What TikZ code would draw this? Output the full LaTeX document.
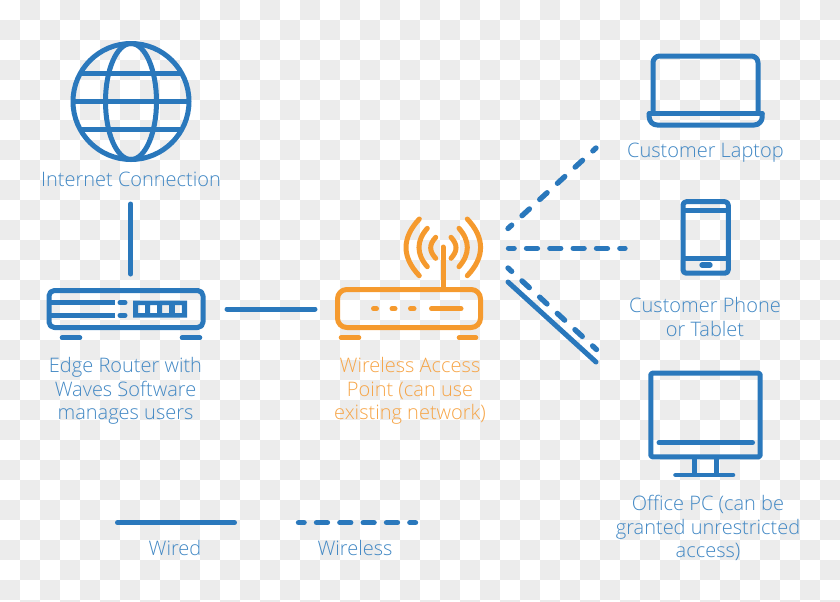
\documentclass[tikz,border=0pt]{standalone}
\usepackage{fontspec}
\setmainfont{Open Sans Light}
\definecolor{netblue}{HTML}{2A78BC}
\definecolor{nettext}{HTML}{4288C4}
\definecolor{netorange}{HTML}{F59A2E}
\definecolor{nettexto}{HTML}{F6A548}
\definecolor{chk}{HTML}{ECECEC}
\tikzset{
  icon/.style={draw=netblue,line width=3.75pt,line cap=round,line join=round},
  oicon/.style={draw=netorange,line width=3.75pt,line cap=round,line join=round},
  wire/.style={draw=netblue,line width=3.75pt,line cap=round},
  wless/.style={draw=netblue,line width=4pt,line cap=round,dash pattern=on 8.2pt off 9.3pt,dash phase=4pt},
  wdiag/.style={draw=netblue,line width=4pt,line cap=round,dash pattern=on 7.5pt off 10.5pt,dash phase=3.75pt},
  lbl/.style={font=\fontsize{15}{17.6}\selectfont,text=nettext,align=center,inner sep=0pt},
  olbl/.style={lbl,text=nettexto},
}
\begin{document}
\begin{tikzpicture}[x=0.75pt,y=-0.75pt]
\clip (0,0) rectangle (840,601);
\foreach \i in {0,...,41}{\foreach \j in {0,...,30}{
  \pgfmathtruncatemacro{\odd}{mod(\i+\j,2)}
  \ifnum\odd=1 \fill[chk] (20*\i,20*\j) rectangle +(20,20); \fi
}}
% globe
\draw[icon] (131,101.5) circle [x radius=58,y radius=58];
\draw[icon] (131,101.5) ellipse [x radius=25.5,y radius=58];
\draw[icon,line cap=butt] (80,73.5) -- (182,73.5);
\draw[icon,line cap=butt] (73,101) -- (189,101);
\draw[icon,line cap=butt] (80,129) -- (182,129);
\node[lbl] (inet) at (131,179) {Internet Connection};
% edge router
\draw[icon,rounded corners=4pt] (49,290.5) rectangle (203,327.5);
\draw[icon,line cap=butt] (51,302.7) -- (115,302.7);
\draw[icon,line cap=butt] (51,315.3) -- (115,315.3);
\draw[icon] (120,302.7) -- (125,302.7);
\draw[icon] (120,315.3) -- (125,315.3);
\fill[netblue,even odd rule] (133,300.7) rectangle (187,317.7)
  (138.2,305.2) rectangle (145.2,313.2)
  (150.2,305.2) rectangle (157.2,313.2)
  (162.2,305.2) rectangle (169.2,313.2)
  (174.8,305.2) rectangle (181.8,313.2);
\draw[icon,line width=3.4pt] (62,337.7) -- (80,337.7);
\draw[icon,line width=3.4pt] (182,337.7) -- (200,337.7);
\node[lbl] (edge) at (125.5,391) {Edge Router with\\Waves Software\\manages users};
% access point
\draw[oicon,rounded corners=7pt] (337.5,289.5) rectangle (480.5,327.5);
\draw[oicon] (443,288) -- (443,247);
\draw[oicon] (373.5,308.7) -- (376.5,308.7);
\draw[oicon] (392,308.7) -- (395,308.7);
\draw[oicon] (410.5,308.7) -- (414,308.7);
\draw[oicon] (431.5,308.7) -- (461,308.7);
\draw[oicon,line width=3.4pt] (341,337.7) -- (359,337.7);
\draw[oicon,line width=3.4pt] (459,337.7) -- (476,337.7);
\draw[oicon] (435.7,237.3) .. controls (429,244.5) and (429,251) .. (435.7,258.3);
\draw[oicon] (427.3,228.3) .. controls (416.2,241) and (416.2,254) .. (427.3,266.7);
\draw[oicon] (419.3,219) .. controls (401.6,238) and (401.6,257) .. (419.3,275.7);
\draw[oicon] (451,237.3) .. controls (457.7,244.5) and (457.7,251) .. (451,258.3);
\draw[oicon] (459,228.3) .. controls (470.1,241) and (470.1,254) .. (459,266.7);
\draw[oicon] (467.3,219) .. controls (485,238) and (485,257) .. (467.3,275.7);
\node[olbl] (ap) at (410,391) {Wireless Access\\Point (can use\\existing network)};
% laptop
\draw[icon,rounded corners=5pt] (653,113) -- (653,56) -- (758,56) -- (758,113);
\draw[icon,rounded corners=6pt] (649.2,113.7) -- (649.2,125) -- (762.2,125) -- (762.2,113.7);
\draw[icon] (649.2,113.7) -- (762.2,113.7);
\node[lbl] (laptop) at (705.5,153) {Customer Laptop};
% phone
\draw[icon,rounded corners=2.5pt] (683,201.7) rectangle (728.3,273.2);
\draw[icon,line cap=butt] (683,210.7) -- (728.3,210.7);
\draw[icon,line cap=butt] (683,258.3) -- (728.3,258.3);
\draw[icon,line width=4pt] (702,265) -- (710,265);
\node[lbl] (phone) at (705,317) {Customer Phone\\or Tablet};
% monitor
\draw[icon,rounded corners=1pt] (650.8,373.2) rectangle (760.2,456.8);
\draw[icon] (659,442.7) -- (752.5,442.7);
\draw[icon,line cap=butt] (694,458) -- (694,475);
\draw[icon,line cap=butt] (716.7,458) -- (716.7,475);
\draw[icon,line width=3.4pt] (675.5,475) -- (733,475);
\node[lbl] (pc) at (708,528) {Office PC (can be\\granted unrestricted\\access)};
% connectors
\coordinate (neA) at (508,228.5); \coordinate (neB) at (596,148);
\coordinate (eA) at (508.5,248.3); \coordinate (eB) at (625,248.3);
\coordinate (seA) at (508,268); \coordinate (seB) at (596.5,349.5);
\coordinate (sA) at (508,282); \coordinate (sB) at (596,362);
\coordinate (upA) at (130.7,204); \coordinate (upB) at (130.7,274);
\coordinate (rA) at (227,309); \coordinate (rB) at (315,309);
\draw[wire] (upA) -- (upB);
\draw[wire] (rA) -- (rB);
\draw[wdiag] (neA) -- (neB);
\draw[wless] (eA) -- (eB);
\draw[wdiag] (seA) -- (seB);
\draw[wire] (sA) -- (sB);
% legend
\coordinate (lwA) at (117.5,522.7); \coordinate (lwB) at (234.5,522.7);
\coordinate (llA) at (298.5,522.7); \coordinate (llB) at (415.5,522.7);
\draw[wire] (lwA) -- (lwB);
\draw[wless] (llA) -- (llB);
\node[lbl] (wired) at (175,548) {Wired};
\node[lbl] (wireless) at (355,548) {Wireless};
\end{tikzpicture}
\end{document}
